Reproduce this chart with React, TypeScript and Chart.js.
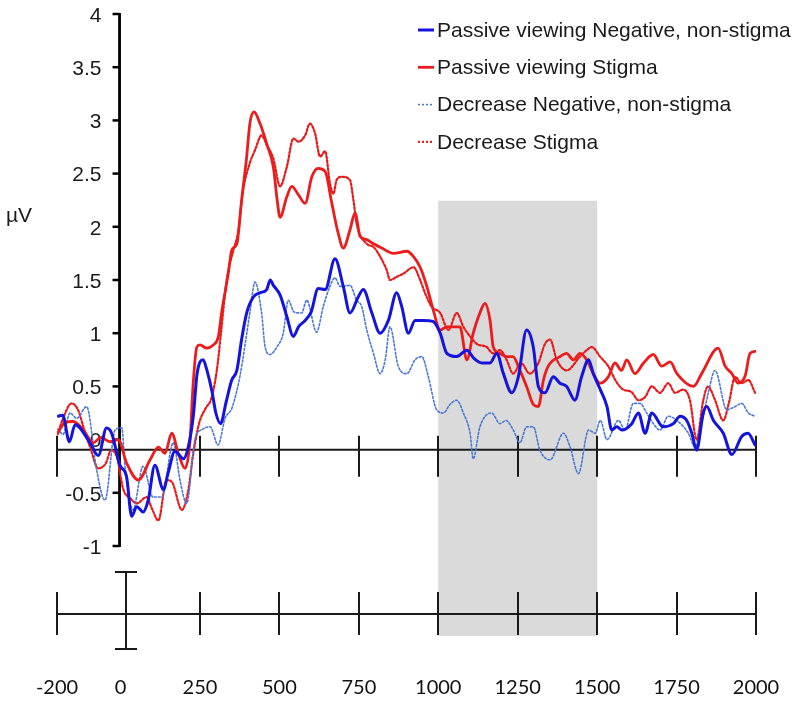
import React, { useEffect, useRef } from "react";
import { Chart, registerables } from "chart.js";

Chart.register(...registerables);

// ---------- data ----------
const X_TICKS = [-200, 0, 250, 500, 750, 1000, 1250, 1500, 1750, 2000];
const X_TICK_LABELS = ["-200", "0", "250", "500", "750", "1000", "1250", "1500", "1750", "2000"];
const Y_TICKS = [-1, -0.5, 0, 0.5, 1, 1.5, 2, 2.5, 3, 3.5, 4];
const Y_TICK_LABELS = ["-1", "-0.5", "0", "0.5", "1", "1.5", "2", "2.5", "3", "3.5", "4"];
const Y_TITLE = "µV";
const SHADE_WINDOW = [1000, 1500];

const SERIES_LABELS = [
  "Passive viewing Negative, non-stigma",
  "Passive viewing Stigma",
  "Decrease Negative, non-stigma",
  "Decrease Stigma",
];

// Passive viewing Negative, non-stigma (ms, µV)
const pvNegT = [-196,-182,-161,-143,-96,-70,-44,-28,-2,19,35,51,71,87,108,135,150,171,198,213,229,241,260,272,288,300,315,332,350,366,381,397,418,439,460,471,481,502,523,544,560,581,600,622,644,675,701,722,748,764,791,817,843,869,885,906,927,953,984,1006,1027,1058,1090,1113,1137,1163,1184,1205,1231,1252,1278,1299,1315,1336,1362,1383,1404,1430,1451,1473,1488,1510,1531,1546,1562,1578,1609,1630,1651,1672,1708,1740,1761,1782,1798,1813,1834,1845,1866,1897,1924,1955,1975,1997];
const pvNegV = [0.22,0.23,-0.02,0.14,-0.03,-0.15,0.11,0.06,-0.24,-0.35,-0.72,-0.63,-0.68,-0.57,-0.24,-0.47,-0.31,-0.11,-0.18,-0.07,0.22,0.62,0.75,0.65,0.45,0.25,0.15,0.35,0.56,0.65,0.94,1.19,1.34,1.38,1.41,1.5,1.45,1.36,1.16,0.97,1.06,1.12,1.2,1.42,1.41,1.7,1.44,1.19,1.34,1.41,1.19,1.0,1.12,1.38,1.25,1.0,1.12,1.12,1.11,1.0,0.81,0.78,0.84,0.76,0.72,0.72,0.81,0.62,0.44,0.59,1.03,0.87,0.5,0.44,0.59,0.53,0.5,0.37,0.59,0.75,0.62,0.47,0.31,0.09,0.12,0.09,0.15,0.25,0.06,0.25,0.12,0.15,0.22,0.18,0.06,-0.1,0.25,0.31,0.18,0.06,-0.14,0.03,0.06,-0.05];

// Passive viewing Stigma
const pvStigT = [-198,-175,-149,-117,-86,-62,-33,-7,19,56,93,119,140,161,182,203,219,228,240,250,271,292,308,318,339,350,366,381,397,407,420,439,460,481,493,502,523,539,560,581,602,622,644,665,685,701,722,738,754,775,796,822,859,901,922,943,964,984,1006,1027,1068,1090,1110,1131,1147,1163,1173,1194,1215,1235,1257,1278,1299,1315,1331,1346,1383,1404,1425,1446,1467,1488,1509,1535,1556,1577,1593,1619,1646,1677,1703,1730,1751,1803,1829,1881,1903,1924,1944,1966,1981,2000];
const pvStigV = [0.06,0.16,0.17,0.09,-0.03,0.02,-0.02,0.0,-0.22,-0.38,-0.19,-0.07,-0.13,0.06,-0.13,-0.27,0.0,0.5,0.87,0.89,0.86,0.89,0.97,1.19,1.56,1.78,1.84,2.25,2.66,2.97,3.08,2.97,2.78,2.56,2.25,2.09,2.28,2.38,2.3,2.22,2.47,2.55,2.52,2.22,1.94,1.8,1.97,2.13,1.91,1.88,1.84,1.8,1.75,1.77,1.72,1.62,1.44,1.22,1.03,1.06,1.06,0.75,1.0,1.19,1.28,1.12,0.87,0.81,0.78,0.78,0.65,0.5,0.33,0.31,0.56,0.69,0.78,0.81,0.75,0.81,0.75,0.62,0.53,0.59,0.72,0.65,0.75,0.62,0.72,0.8,0.69,0.73,0.62,0.5,0.62,0.86,0.69,0.62,0.53,0.6,0.81,0.83];

// Decrease Negative, non-stigma
const decNegT = [-198,-181,-159,-138,-107,-75,-49,-17,4,14,39,71,102,130,166,187,208,234,260,282,307,329,351,376,407,423,444,455,470,492,512,528,546,570,586,617,638,659,675,691,722,743,759,775,796,817,833,848,874,901,927,948,968,995,1016,1037,1058,1079,1100,1110,1131,1168,1194,1213,1236,1257,1278,1299,1320,1352,1394,1415,1441,1473,1494,1510,1531,1567,1588,1614,1635,1656,1677,1698,1724,1751,1787,1808,1829,1850,1871,1908,1934,1955,1976,1997];
const decNegV = [0.1,0.05,0.25,0.2,0.31,-0.29,-0.57,0.09,0.11,-0.25,-0.66,-0.25,-0.54,-0.54,-0.03,-0.38,-0.6,0.0,0.1,0.12,-0.05,0.2,0.3,0.6,1.19,1.48,1.19,0.87,0.8,0.87,1.0,1.31,1.2,1.19,1.31,1.01,1.25,1.44,1.52,1.44,1.45,1.31,1.25,1.03,0.81,0.62,0.75,1.06,0.69,0.62,0.75,0.78,0.6,0.28,0.25,0.33,0.37,0.25,0.06,-0.18,0.12,0.25,0.15,0.18,0.09,-0.03,0.12,0.12,-0.1,-0.19,0.06,-0.07,-0.32,0.09,0.06,0.18,0.0,0.18,0.09,0.34,0.34,0.25,0.15,0.09,0.22,0.18,0.06,-0.07,0.15,0.44,0.65,0.28,0.31,0.34,0.25,0.22];

// Decrease Stigma
const decStigT = [-198,-181,-154,-134,-115,-96,-70,-46,-30,-12,9,30,51,82,99,119,145,162,193,213,228,247,269,285,303,316,334,355,370,386,407,423,444,460,481,502,523,544,560,581,596,612,628,644,659,670,680,696,722,733,743,775,796,817,838,848,869,890,922,943,958,979,1006,1032,1058,1079,1100,1121,1152,1173,1194,1215,1236,1260,1288,1315,1336,1352,1373,1404,1446,1467,1483,1509,1535,1559,1582,1607,1630,1651,1672,1698,1724,1745,1771,1792,1813,1834,1849,1870,1897,1915,1934,1955,1976,1997];
const decStigV = [0.05,0.2,0.34,0.28,0.1,-0.07,-0.27,-0.22,-0.1,-0.16,-0.47,-0.55,-0.6,-0.54,-0.65,-0.76,-0.38,-0.4,-0.66,-0.48,-0.15,0.15,0.3,0.38,0.65,1.0,1.5,1.78,1.95,2.35,2.6,2.72,2.86,2.77,2.64,2.38,2.56,2.83,2.8,2.86,2.97,2.88,2.66,2.71,2.41,2.31,2.44,2.47,2.44,2.25,2.03,1.84,1.81,1.72,1.59,1.5,1.53,1.56,1.62,1.5,1.38,1.25,1.19,1.03,1.19,1.06,0.97,0.9,0.87,0.81,0.84,0.75,0.62,0.72,0.62,0.72,0.9,0.94,0.75,0.65,0.78,0.84,0.87,0.78,0.69,0.55,0.47,0.45,0.37,0.4,0.5,0.44,0.53,0.44,0.47,0.37,0.0,0.37,0.5,0.38,0.18,0.35,0.59,0.53,0.56,0.44];

// ---------- layout constants (value-space positions of the decorations) ----------
const ZERO_AXIS_VALUE = -0.095; // horizontal axis drawn slightly below 0
const LOWER_AXIS_VALUE = -1.64;
const SCALEBAR_TOP = -1.245;
const SCALEBAR_BOTTOM = -1.968;
const X_LABEL_VALUE = -2.335;
const SHADE_TOP = 2.245;
const SHADE_BOTTOM = -1.846;

const ARIAL = "Arial, 'Liberation Sans', Helvetica, sans-serif";

function pts(t: number[], v: number[]) {
  return t.map((x, i) => ({ x, y: v[i] }));
}

const decorPlugin = {
  id: "erpDecor",
  beforeDatasetsDraw(chart: any) {
    const { ctx } = chart;
    const x = chart.scales.x;
    const y = chart.scales.y;
    ctx.save();
    // shaded window
    const sx0 = x.getPixelForValue(SHADE_WINDOW[0]);
    const sx1 = x.getPixelForValue(SHADE_WINDOW[1]);
    const sy0 = y.getPixelForValue(SHADE_TOP);
    const sy1 = y.getPixelForValue(SHADE_BOTTOM);
    ctx.fillStyle = "#dadada";
    ctx.fillRect(sx0, sy0, sx1 - sx0, sy1 - sy0);

    const xl = x.getPixelForValue(X_TICKS[0]);
    const xr = x.getPixelForValue(X_TICKS[X_TICKS.length - 1]);

    // zero axis with crossing ticks
    const zy = y.getPixelForValue(ZERO_AXIS_VALUE);
    ctx.strokeStyle = "#1a1a1a";
    ctx.lineWidth = 2;
    ctx.beginPath();
    ctx.moveTo(xl, zy);
    ctx.lineTo(xr, zy);
    ctx.stroke();
    X_TICKS.forEach((t) => {
      if (t === 0) return;
      const px = Math.round(x.getPixelForValue(t));
      ctx.beginPath();
      ctx.moveTo(px, zy - 14);
      ctx.lineTo(px, zy + 27);
      ctx.stroke();
    });

    // lower time axis
    const ly = y.getPixelForValue(LOWER_AXIS_VALUE);
    ctx.beginPath();
    ctx.moveTo(xl, ly);
    ctx.lineTo(xr, ly);
    ctx.stroke();
    X_TICKS.forEach((t) => {
      if (t === 0) return;
      const px = Math.round(x.getPixelForValue(t));
      ctx.beginPath();
      ctx.moveTo(px, ly - 22);
      ctx.lineTo(px, ly + 21);
      ctx.stroke();
    });
    // I-beam at 0
    const bx = Math.round(x.getPixelForValue(0)) + 5;
    const bt = y.getPixelForValue(SCALEBAR_TOP);
    const bb = y.getPixelForValue(SCALEBAR_BOTTOM);
    ctx.beginPath();
    ctx.moveTo(bx, bt);
    ctx.lineTo(bx, bb);
    ctx.moveTo(bx - 11, bt);
    ctx.lineTo(bx + 11, bt);
    ctx.moveTo(bx - 11, bb);
    ctx.lineTo(bx + 11, bb);
    ctx.stroke();

    // x labels
    const lyT = y.getPixelForValue(X_LABEL_VALUE);
    ctx.fillStyle = "#111";
    ctx.font = "20px Lato, 'Open Sans', sans-serif";
    ctx.textAlign = "center";
    ctx.textBaseline = "middle";
    X_TICKS.forEach((t, i) => {
      ctx.fillText(X_TICK_LABELS[i], x.getPixelForValue(t), lyT);
    });

    // y axis
    const ax = x.getPixelForValue(0) - 1;
    const yTop = y.getPixelForValue(Y_TICKS[Y_TICKS.length - 1]);
    const yBot = y.getPixelForValue(Y_TICKS[0]);
    ctx.strokeStyle = "#000";
    ctx.lineWidth = 2.8;
    ctx.beginPath();
    ctx.moveTo(ax, yTop - 1);
    ctx.lineTo(ax, yBot + 1);
    ctx.stroke();
    ctx.lineWidth = 2.5;
    ctx.font = `21px ${ARIAL}`;
    ctx.textAlign = "right";
    ctx.fillStyle = "#1a1a1a";
    Y_TICKS.forEach((v, i) => {
      const py = y.getPixelForValue(v);
      ctx.beginPath();
      ctx.moveTo(ax - 7, py);
      ctx.lineTo(ax, py);
      ctx.stroke();
      ctx.fillText(Y_TICK_LABELS[i], ax - 18, py + 2);
    });
    // y title
    ctx.textAlign = "left";
    ctx.fillText(Y_TITLE, 6, y.getPixelForValue(2.1));
    ctx.restore();
  },
  afterDatasetsDraw(chart: any) {
    const { ctx } = chart;
    ctx.save();
    const x0 = 418;
    const x1 = 434;
    const textX = 437;
    const top = 30;
    const gap = 37.3;
    ctx.font = `21px ${ARIAL}`;
    ctx.textAlign = "left";
    ctx.textBaseline = "middle";
    chart.data.datasets.forEach((ds: any, i: number) => {
      const yy = top + i * gap;
      ctx.strokeStyle = ds.borderColor;
      ctx.lineWidth = ds.borderWidth;
      ctx.setLineDash(ds.borderDash || []);
      ctx.beginPath();
      ctx.moveTo(x0, yy);
      ctx.lineTo(x1, yy);
      ctx.stroke();
      ctx.setLineDash([]);
      ctx.fillStyle = "#1a1a1a";
      ctx.fillText(ds.label, textX, yy + 1);
    });
    ctx.restore();
  },
};

export default function App() {
  const ref = useRef<HTMLCanvasElement | null>(null);
  useEffect(() => {
    if (!ref.current) return;
    const chart = new Chart(ref.current, {
      type: "line",
      data: {
        datasets: [
          {
            label: SERIES_LABELS[0],
            data: pts(pvNegT, pvNegV),
            borderColor: "#1414dc",
            borderWidth: 3,
          },
          {
            label: SERIES_LABELS[1],
            data: pts(pvStigT, pvStigV),
            borderColor: "#ec1c1c",
            borderWidth: 2.8,
          },
          {
            label: SERIES_LABELS[2],
            data: pts(decNegT, decNegV),
            borderColor: "#4a78d8",
            borderWidth: 1.6,
            borderDash: [2, 2],
          },
          {
            label: SERIES_LABELS[3],
            data: pts(decStigT, decStigV),
            borderColor: "#e81a1a",
            borderWidth: 2.2,
            borderDash: [2, 2],
          },
        ] as any,
      },
      options: {
        animation: false,
        responsive: false,
        maintainAspectRatio: false,
        layout: { padding: { left: 57, right: 44, top: 14, bottom: 158 } },
        elements: {
          point: { radius: 0 },
          line: { cubicInterpolationMode: "monotone", borderCapStyle: "round", borderJoinStyle: "round" },
        },
        plugins: { legend: { display: false }, tooltip: { enabled: false } },
        scales: {
          x: { type: "linear", min: -200, max: 2000, display: false },
          y: { type: "linear", min: -1, max: 4, display: false },
        },
      },
      plugins: [decorPlugin],
    });
    return () => chart.destroy();
  }, []);
  return (
    <div style={{ position: "absolute", left: 0, top: 0, width: 800, height: 704, background: "#fff" }}>
      <canvas ref={ref} width={800} height={704} style={{ width: 800, height: 704 }} />
    </div>
  );
}
